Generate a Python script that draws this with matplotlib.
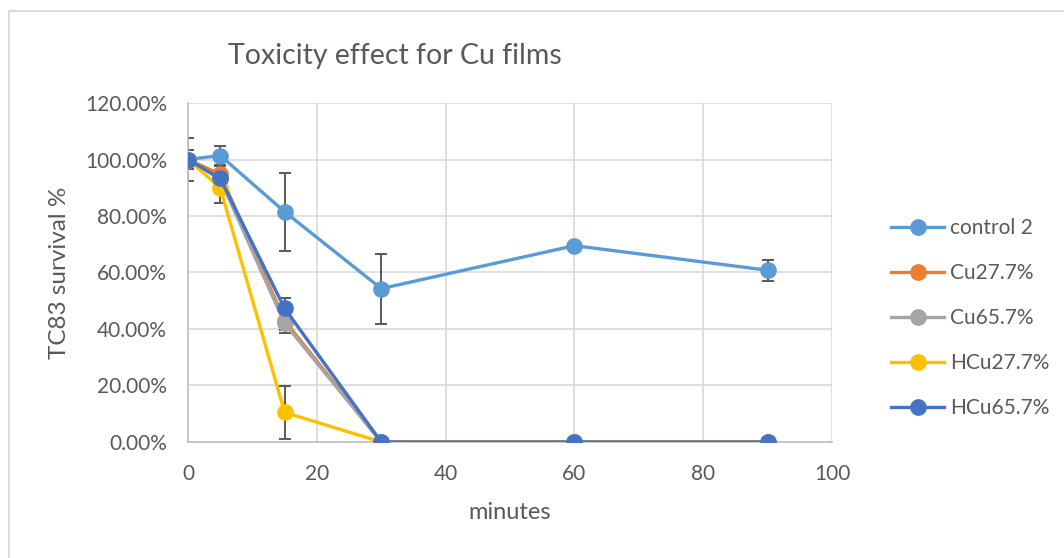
import matplotlib
matplotlib.use("Agg")
import matplotlib.pyplot as plt
from matplotlib.lines import Line2D
from matplotlib.ticker import PercentFormatter

plt.rcParams['font.family'] = ['Lato', 'DejaVu Sans']

minutes = [0, 5, 15, 30, 60, 90]
series_names = ['control 2', 'Cu27.7%', 'Cu65.7%', 'HCu27.7%', 'HCu65.7%']
colors = ['#5B9BD5', '#ED7D31', '#A5A5A5', '#FFC000', '#4472C4']

control2 = [100.0, 101.4, 81.5, 54.3, 69.5, 60.8]
cu277 = [100.0, 94.8, 43.0, 0.0, 0.0, 0.0]
cu657 = [100.0, 93.0, 42.0, 0.0, 0.0, 0.0]
hcu277 = [100.0, 90.0, 10.5, 0.0, 0.0, 0.0]
hcu657 = [100.0, 93.3, 47.3, 0.0, 0.0, 0.0]

control2_err = [7.5, 3.3, 13.8, 12.4, 0.0, 3.7]
cu277_err = [3.3, 3.0, 3.5, 0.0, 0.0, 0.0]
cu657_err = [3.3, 3.0, 3.5, 0.0, 0.0, 0.0]
hcu277_err = [3.3, 5.5, 9.4, 0.0, 0.0, 0.0]
hcu657_err = [3.3, 3.0, 3.6, 0.0, 0.0, 0.0]

values = [control2, cu277, cu657, hcu277, hcu657]
errors = [control2_err, cu277_err, cu657_err, hcu277_err, hcu657_err]

fig = plt.figure(figsize=(10.64, 5.58), dpi=100)
ax = fig.add_axes([0.1767, 0.2079, 0.6053, 0.6075])

for vals, errs in zip(values, errors):
    ax.errorbar(minutes, vals, yerr=errs, fmt='none', ecolor='#595959',
                elinewidth=1.4, capsize=4, capthick=1.4, zorder=2)
for name, vals, c in zip(series_names, values, colors):
    ax.plot(minutes, vals, color=c, lw=2.4, marker='o', ms=11, label=name, zorder=3)

ax.set_xlim(0, 100)
ax.set_ylim(0, 120)
ax.set_xticks(range(0, 101, 20))
ax.set_yticks(range(0, 121, 20))
ax.yaxis.set_major_formatter(PercentFormatter(decimals=2))
ax.grid(True, color='#D9D9D9', lw=1.2)
ax.set_axisbelow(True)
for s in ['top', 'right']:
    ax.spines[s].set_visible(False)
for s in ['left', 'bottom']:
    ax.spines[s].set_color('#BFBFBF')
    ax.spines[s].set_linewidth(1.2)
ax.tick_params(axis='both', length=0, labelsize=15, labelcolor='#595959')
ax.tick_params(axis='y', pad=15)
ax.tick_params(axis='x', pad=16)

ax.set_xlabel('minutes', fontsize=17, color='#595959', va='center')
ax.set_ylabel('TC83 survival %', fontsize=17.5, color='#595959', va='center')
ax.xaxis.set_label_coords(0.5, -0.209)
ax.yaxis.set_label_coords(-0.2, 0.5)
fig.text(0.371, 0.9, 'Toxicity effect for Cu films', fontsize=20.5, color='#595959',
         ha='center', va='center')

leg = ax.legend(loc='center left', bbox_to_anchor=(1.092, 0.366), frameon=False,
                fontsize=15, labelspacing=1.2, handlelength=2.55, handletextpad=0.25,
                borderpad=0, borderaxespad=0, labelcolor='#595959')

# chart-area border (only top and left edges are visible in the original)
fig.add_artist(Line2D([0.008, 0.008], [0.0, 0.980], transform=fig.transFigure,
                      color='#D9D9D9', lw=1.3))
fig.add_artist(Line2D([0.008, 1.0], [0.980, 0.980], transform=fig.transFigure,
                      color='#D9D9D9', lw=1.3))

fig.savefig('out.png', dpi=100)
